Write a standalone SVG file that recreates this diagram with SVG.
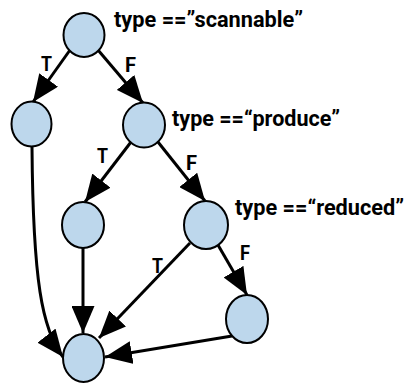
<svg xmlns="http://www.w3.org/2000/svg" width="406" height="384" viewBox="0 0 406 384">
  <style>
    .node { fill: #bdd7ec; stroke: #000; stroke-width: 2; }
    .edge { fill: none; stroke: #000; stroke-width: 3; marker-end: url(#head); }
    .label { font-family: Roboto, "Liberation Sans", sans-serif; font-weight: bold; font-size: 22px; fill: #000; }
    .tf { font-family: Roboto, "Liberation Sans", sans-serif; font-weight: bold; font-size: 21px; fill: #000; }
  </style>
  <defs>
    <marker id="head" viewBox="0 0 27 23" refX="27" refY="11.5" markerWidth="27" markerHeight="23" markerUnits="userSpaceOnUse" orient="auto">
      <path d="M0,0 L27,11.5 L0,23 Z" fill="#000"/>
    </marker>
  </defs>

  <g id="connectors">
    <path class="edge" d="M70,50 L33,102"/>
    <path class="edge" d="M98,50 L143,103"/>
    <path class="edge" d="M131,142 L85,202"/>
    <path class="edge" d="M158,142 L205,201"/>
    <path class="edge" d="M32,147 C33,280 42,330 63,357"/>
    <path class="edge" d="M83,248 L83,333"/>
    <path class="edge" d="M190,243 L99,338"/>
    <path class="edge" d="M218,245 L247,295"/>
    <path class="edge" d="M232,336 L105,357"/>
    <text class="tf" x="41" y="71" textLength="11" lengthAdjust="spacingAndGlyphs">T</text>
    <text class="tf" x="125" y="72" textLength="11" lengthAdjust="spacingAndGlyphs">F</text>
    <text class="tf" x="97" y="163" textLength="11" lengthAdjust="spacingAndGlyphs">T</text>
    <text class="tf" x="186" y="170" textLength="11" lengthAdjust="spacingAndGlyphs">F</text>
    <text class="tf" x="152" y="273" textLength="11" lengthAdjust="spacingAndGlyphs">T</text>
    <text class="tf" x="240" y="260" textLength="10" lengthAdjust="spacingAndGlyphs">F</text>
  </g>

  <g id="scannable">
    <ellipse class="node" cx="84" cy="35" rx="20.5" ry="22"/>
    <text class="label" x="114" y="27" textLength="189" lengthAdjust="spacingAndGlyphs">type ==”scannable”</text>
  </g>
  <g id="scannable-true">
    <ellipse class="node" cx="31.5" cy="124" rx="20" ry="22.5"/>
  </g>
  <g id="produce">
    <ellipse class="node" cx="144" cy="125" rx="21" ry="22.5"/>
    <text class="label" x="172" y="126" textLength="168" lengthAdjust="spacingAndGlyphs">type ==“produce”</text>
  </g>
  <g id="produce-true">
    <ellipse class="node" cx="83" cy="225" rx="21" ry="23"/>
  </g>
  <g id="reduced">
    <ellipse class="node" cx="206" cy="225" rx="22" ry="24"/>
    <text class="label" x="235" y="215" textLength="169" lengthAdjust="spacingAndGlyphs">type ==“reduced”</text>
  </g>
  <g id="reduced-false">
    <ellipse class="node" cx="247" cy="319" rx="21" ry="24"/>
  </g>
  <g id="end">
    <ellipse class="node" cx="83.5" cy="358" rx="20.5" ry="24"/>
  </g>
</svg>
